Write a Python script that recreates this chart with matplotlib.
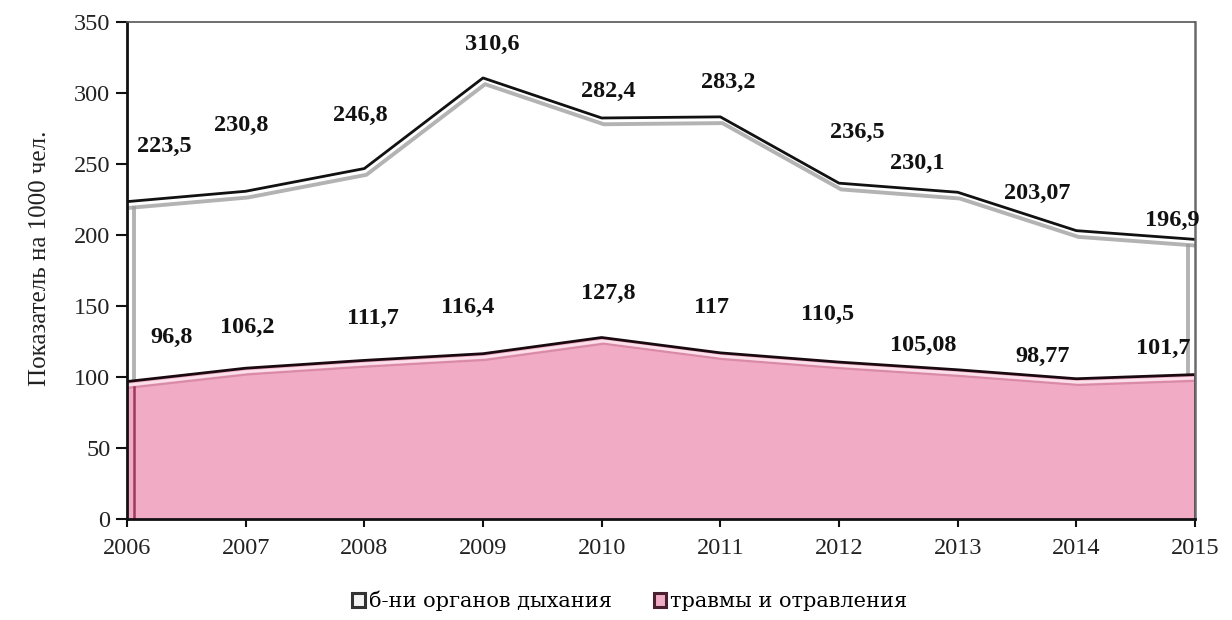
import matplotlib
matplotlib.use("Agg")
import matplotlib.pyplot as plt
from matplotlib.patches import Patch
from matplotlib.transforms import offset_copy

# Data
years = [2006, 2007, 2008, 2009, 2010, 2011, 2012, 2013, 2014, 2015]
respiratory = [223.5, 230.8, 246.8, 310.6, 282.4, 283.2, 236.5, 230.1, 203.07, 196.9]
injuries = [96.8, 106.2, 111.7, 116.4, 127.8, 117, 110.5, 105.08, 98.77, 101.7]
respiratory_labels = ["223,5", "230,8", "246,8", "310,6", "282,4", "283,2", "236,5", "230,1", "203,07", "196,9"]
injuries_labels = ["96,8", "106,2", "111,7", "116,4", "127,8", "117", "110,5", "105,08", "98,77", "101,7"]
series_names = ["б-ни органов дыхания", "травмы и отравления"]
y_ticks = [0, 50, 100, 150, 200, 250, 300, 350]

# Label offsets (points) relative to each data point
resp_off = [(27, 40), (-3, 47.5), (-3, 38.5), (6.5, 24), (4.5, 19), (5.5, 24.5), (13, 36.5), (-29, 21), (-28, 27), (-16, 14)]
inj_off = [(32, 32), (1, 29), (6, 30.5), (-11, 33), (4.5, 32), (-6, 32.5), (-8.5, 34), (-25, 17.5), (-24, 16), (-23, 19)]

PINK = "#f1abc5"
SERIF = "Liberation Serif"

fig = plt.figure(figsize=(12.32, 6.2), dpi=100)
ax = fig.add_axes([127 / 1232, 1 - 519 / 620, (1195 - 127) / 1232, (519 - 22) / 620])
ax.set_xlim(years[0], years[-1])
ax.set_ylim(0, 350)

def shifted(dx, dy):
    return offset_copy(ax.transData, fig=fig, x=dx, y=dy, units="points")

# Respiratory diseases area (white with bevelled outline)
ax.fill_between(years, 0, respiratory, color="white", zorder=1)
ax.plot(years, respiratory, color="#9a9a9a", lw=2.8, alpha=0.75, transform=shifted(1.5, -4.5), zorder=1.5)
ax.plot([years[0], years[0]], [0, respiratory[0]], color="#9a9a9a", lw=2.8, alpha=0.75,
        transform=shifted(5, -4.5), zorder=1.5)
ax.plot([years[-1], years[-1]], [0, respiratory[-1]], color="#9a9a9a", lw=2.8, alpha=0.75,
        transform=shifted(-5, -4.5), zorder=1.5)
ax.plot(years, respiratory, color="#111111", lw=2.0, zorder=2)

# Injuries and poisoning area (pink)
ax.fill_between(years, 0, injuries, color=PINK, zorder=3)
ax.plot(years, injuries, color="#fbe0ea", lw=2.0, transform=shifted(1, -2.5), zorder=3.5)
ax.plot(years, injuries, color="#d98aa7", lw=1.5, transform=shifted(1.5, -4.5), zorder=3.4)
ax.plot([years[0], years[0]], [0, injuries[0]], color="#9c3a5c", lw=1.8,
        transform=shifted(5, -4), zorder=3.5)
ax.plot(years, injuries, color="#1a0a10", lw=2.0, zorder=4)
ax.plot([years[-1], years[-1]], [0, injuries[-1]], color="#3a1020", lw=2.0, zorder=4)

# Value labels
for vals, labels, offs in ((respiratory, respiratory_labels, resp_off), (injuries, injuries_labels, inj_off)):
    for x, v, s, (dx, dy) in zip(years, vals, labels, offs):
        ax.annotate(s, (x, v), xytext=(dx, dy), textcoords="offset points", ha="center", va="center",
                    fontsize=17.5, fontweight="bold", family=SERIF, color="#111111", zorder=6,
                    annotation_clip=False)

# Axes styling
for side in ("left", "bottom"):
    ax.spines[side].set_linewidth(2.0)
    ax.spines[side].set_color("#111111")
ax.spines["top"].set_linewidth(1.2)
ax.spines["top"].set_color("#555555")
ax.spines["right"].set_linewidth(1.8)
ax.spines["right"].set_color("#6a6a6a")
for sp in ax.spines.values():
    sp.set_zorder(5)

ax.set_xticks(years)
ax.set_xticklabels([str(y) for y in years], family=SERIF, fontsize=17.5)
ax.set_yticks(y_ticks)
ax.set_yticklabels([str(t) for t in y_ticks], family=SERIF, fontsize=17.5)
ax.tick_params(axis="both", direction="out", width=1.5, color="#111111", labelcolor="#222222")
ax.tick_params(axis="x", length=6, pad=8)
ax.tick_params(axis="y", length=8, pad=4)

fig.text(40 / 1232, 1 - 258 / 620, "Показатель на 1000 чел.", rotation=90, ha="center", va="center",
         family=SERIF, fontsize=18, color="#222222")

handles = [Patch(facecolor="#f4f4f4", edgecolor="#333333", linewidth=2.2),
           Patch(facecolor=PINK, edgecolor="#4a2030", linewidth=2.2)]
fig.legend(handles, series_names, loc="center", bbox_to_anchor=(630 / 1232, 1 - 601 / 620), ncol=2,
           frameon=False, prop={"family": "DejaVu Serif", "size": 15}, handlelength=0.6,
           handleheight=0.6, handletextpad=0.2, columnspacing=2.0)

fig.savefig("out.png", dpi=100)
